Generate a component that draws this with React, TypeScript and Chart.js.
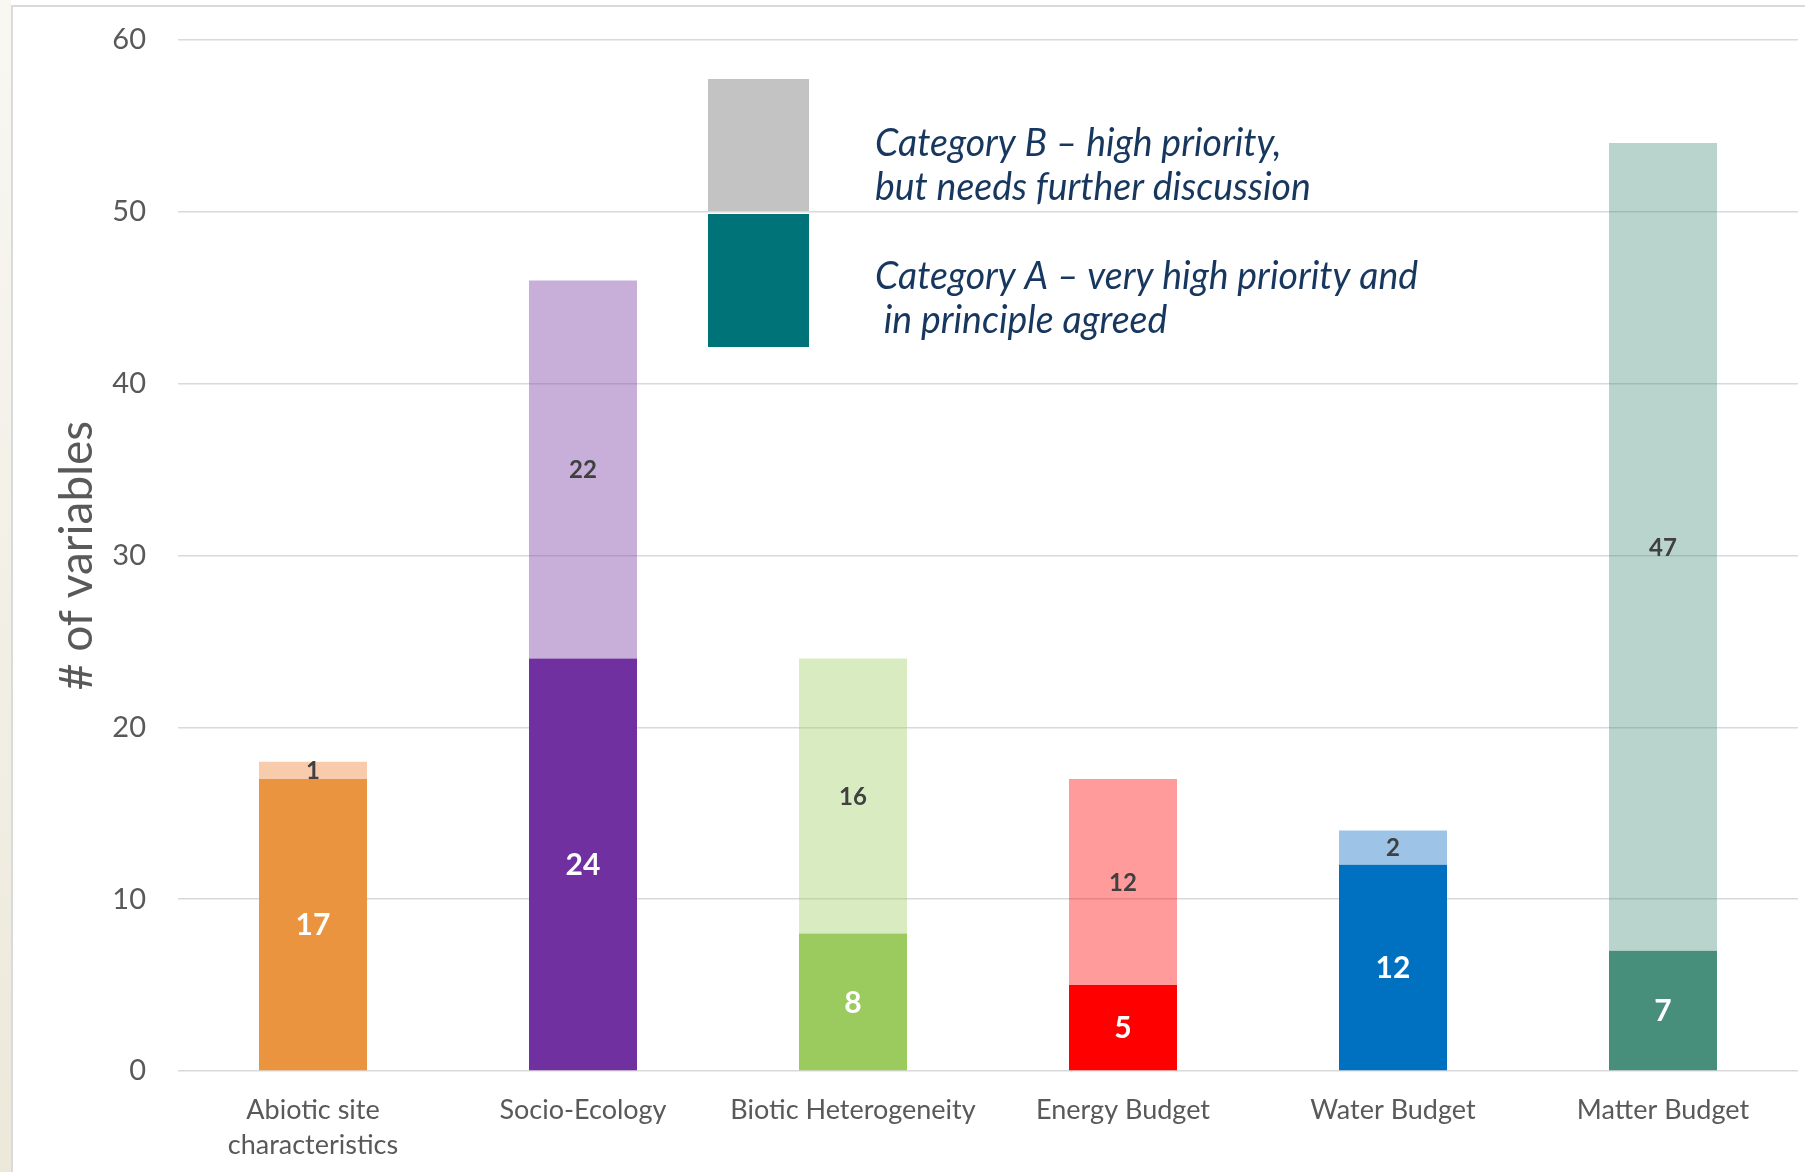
import React, { useEffect, useRef } from 'react';
import { Chart, registerables } from 'chart.js';

Chart.register(...registerables);

// ---- data ----
const categories: (string | string[])[] = [
  ['Abiotic site', 'characteristics'],
  'Socio-Ecology',
  'Biotic Heterogeneity',
  'Energy Budget',
  'Water Budget',
  'Matter Budget',
];
const categoryA = [17, 24, 8, 5, 12, 7];
const categoryB = [1, 22, 16, 12, 2, 47];
const darkColors = ['#EA943F', '#7030A0', '#9BCB5F', '#FF0000', '#0070C0', '#488F7B'];
const lightColors = [
  'rgba(238,125,50,0.4)',
  'rgba(131,77,171,0.45)',
  'rgba(160,205,97,0.4)',
  'rgba(255,5,5,0.4)',
  'rgba(10,105,192,0.4)',
  'rgba(70,142,122,0.38)',
];
const yMin = 0;
const yMax = 60;
const yStep = 10;
const legendLabelsB = ['Category B \u2013 high priority,', 'but needs further discussion'];
const legendLabelsA = ['Category A \u2013 very high priority and', ' in principle agreed'];
const legendColorB = '#C3C3C3';
const legendColorA = '#007378';

const valueLabelPlugin = {
  id: 'valueLabels',
  afterDatasetsDraw(chart: any) {
    const ctx = chart.ctx;
    ctx.save();
    ctx.textAlign = 'center';
    ctx.textBaseline = 'middle';
    chart.data.datasets.forEach((ds: any, di: number) => {
      const meta = chart.getDatasetMeta(di);
      meta.data.forEach((el: any, i: number) => {
        const v = ds.data[i];
        if (!v) return;
        const y = (el.y + el.base) / 2;
        if (di === 0) {
          ctx.font = 'bold 30px Lato';
          ctx.fillStyle = '#FFFFFF';
        } else {
          ctx.font = 'bold 24px Lato';
          ctx.fillStyle = '#404040';
        }
        ctx.fillText(String(v), el.x, y + 1);
      });
    });
    ctx.restore();
  },
};

const customLegendPlugin = {
  id: 'customLegend',
  afterDraw(chart: any) {
    const ctx = chart.ctx;
    const ca = chart.chartArea;
    const boxL = ca.left + 530;
    const boxW = 101;
    ctx.save();
    ctx.fillStyle = legendColorB;
    ctx.fillRect(boxL, ca.top + 39, boxW, 132);
    ctx.fillStyle = legendColorA;
    ctx.fillRect(boxL, ca.top + 174, boxW, 133);

    ctx.font = 'italic 38px Lato';
    ctx.fillStyle = '#17375E';
    ctx.textAlign = 'left';
    ctx.textBaseline = 'alphabetic';
    const w = ctx.measureText(legendLabelsA[0]).width;
    const sx = 543 / w;
    const tx = ca.left + 697;
    const lines = [
      [legendLabelsB[0], ca.top + 116],
      [legendLabelsB[1], ca.top + 160],
      [legendLabelsA[0], ca.top + 249],
      [legendLabelsA[1], ca.top + 293],
    ];
    lines.forEach(([t, y]) => {
      ctx.save();
      ctx.translate(tx, y as number);
      ctx.scale(sx, 1);
      ctx.fillText(t as string, 0, 0);
      ctx.restore();
    });
    ctx.restore();
  },
};

export default function App() {
  const ref = useRef<HTMLCanvasElement>(null);
  useEffect(() => {
    if (!ref.current) return;
    const chart = new Chart(ref.current, {
      type: 'bar',
      data: {
        labels: categories,
        datasets: [
          { label: 'Category A', data: categoryA, backgroundColor: darkColors, categoryPercentage: 1, barPercentage: 0.4 },
          { label: 'Category B', data: categoryB, backgroundColor: lightColors, categoryPercentage: 1, barPercentage: 0.4 },
        ],
      },
      options: {
        responsive: false,
        animation: false,
        devicePixelRatio: 1,
        layout: { padding: { left: 0, top: 40, right: 7, bottom: 0 } },
        plugins: { legend: { display: false }, tooltip: { enabled: false } },
        scales: {
          x: {
            stacked: true,
            grid: { display: false },
            border: { display: false },
            ticks: {
              color: '#595959',
              font: { family: 'Lato', size: 27, lineHeight: 1.3 },
              padding: 14,
              maxRotation: 0,
              autoSkip: false,
            },
            afterFit: (s: any) => { s.height = 101; },
          },
          y: {
            stacked: true,
            min: yMin,
            max: yMax,
            ticks: { stepSize: yStep, color: '#595959', font: { family: 'Lato', size: 29 }, padding: 32 },
            grid: { color: '#D9D9D9', lineWidth: 1.5, drawTicks: false },
            border: { display: false },
            title: {
              display: true,
              text: '# of variables',
              color: '#595959',
              font: { family: 'Lato', size: 46 },
              padding: { top: 50, bottom: 0 },
            },
            afterFit: (s: any) => { s.width = 178; s.paddingTop = 0; s.paddingBottom = 0; },
          },
        },
      },
      plugins: [valueLabelPlugin, customLegendPlugin],
    } as any);
    return () => chart.destroy();
  }, []);

  return (
    <div style={{ position: 'fixed', left: 0, top: 0, width: 1805, height: 1172, background: '#FFFFFF', overflow: 'hidden' }}>
      <div style={{ position: 'absolute', left: 0, top: 0, width: 11, height: 1172, background: 'linear-gradient(#F8F7F2, #ECE8DA)' }} />
      <div style={{ position: 'absolute', left: 11, top: 5, width: 1800, height: 1200, borderLeft: '2px solid #DADADA', borderTop: '2px solid #DADADA' }} />
      <canvas ref={ref} width={1805} height={1172} style={{ position: 'absolute', left: 0, top: 0, width: 1805, height: 1172 }} />
    </div>
  );
}
